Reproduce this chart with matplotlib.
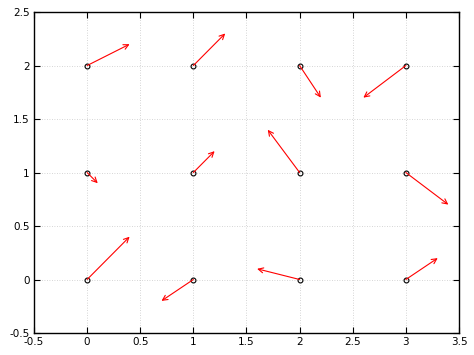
import numpy as np
import matplotlib
matplotlib.use('Agg')
import matplotlib.pyplot as plt

x = [0, 1, 2, 3, 0, 1, 2, 3, 0, 1, 2, 3]
y = [2, 2, 2, 2, 1, 1, 1, 1, 0, 0, 0, 0]
dx = [0.4, 0.3, 0.2, -0.4, 0.1, 0.2, -0.3, 0.4, 0.4, -0.3, -0.4, 0.3]
dy = [0.2, 0.3, -0.3, -0.3, -0.1, 0.2, 0.4, -0.3, 0.4, -0.2, 0.1, 0.2]

xticks = [-0.5, 0, 0.5, 1, 1.5, 2, 2.5, 3, 3.5]
yticks = [-0.5, 0, 0.5, 1, 1.5, 2, 2.5]


def tick_label(v):
    return ('%g' % v)


fig = plt.figure(figsize=(4.74, 3.55), dpi=100)
ax = fig.add_axes([0.0717, 0.062, 0.8966, 0.904])

for xi, yi, u, v in zip(x, y, dx, dy):
    ax.annotate('', xy=(xi + u, yi + v), xytext=(xi, yi),
                arrowprops=dict(arrowstyle='->', color='red', lw=0.8,
                                shrinkA=0, shrinkB=0,
                                mutation_scale=9))
ax.plot(x, y, 'o', mfc='none', mec='black', ms=3.5, mew=0.8)

ax.set_xlim(-0.5, 3.5)
ax.set_ylim(-0.5, 2.5)
ax.set_xticks(xticks)
ax.set_yticks(yticks)
ax.set_xticklabels([tick_label(v) for v in xticks])
ax.set_yticklabels([tick_label(v) for v in yticks])
ax.tick_params(direction='in', top=True, right=True, labelsize=7.5,
               length=4, width=0.8, pad=3)
ax.grid(True, linestyle=(0, (1, 2)), color='#c8c8c8', lw=0.6)
for s in ax.spines.values():
    s.set_linewidth(1.0)

fig.savefig('out.png', dpi=100)
